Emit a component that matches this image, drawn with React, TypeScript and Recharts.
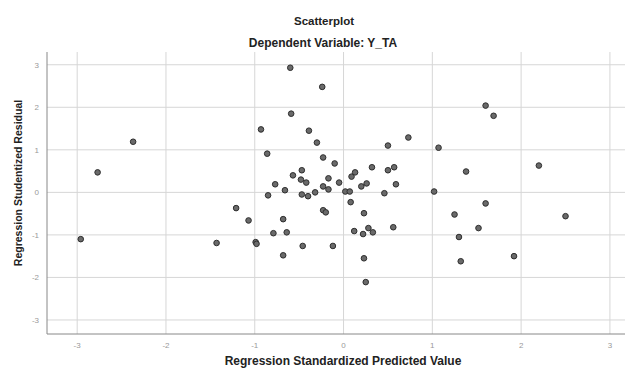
import React from 'react';
import { ScatterChart, Scatter, XAxis, YAxis, CartesianGrid } from 'recharts';

// standardized predicted value (x) vs studentized residual (y)
const predicted = [
    -2.96, -2.77, -2.37, -1.43, -1.21, -1.07, -0.99, -0.98, -0.93, -0.86,
    -0.85, -0.77, -0.79, -0.68, -0.68, -0.66, -0.64, -0.59, -0.6, -0.57,
    -0.47, -0.48, -0.47, -0.46, -0.42, -0.4, -0.39, -0.32, -0.3, -0.24,
    -0.23, -0.23, -0.23, -0.2, -0.17, -0.17, -0.12, -0.1, -0.05, 0.02,
    0.07, 0.08, 0.09, 0.13, 0.12, 0.2, 0.22, 0.23, 0.23, 0.25,
    0.26, 0.28, 0.32, 0.33, 0.46, 0.5, 0.5, 0.56, 0.57, 0.59,
    0.73, 1.02, 1.07, 1.25, 1.3, 1.32, 1.38, 1.52, 1.6, 1.6,
    1.69, 1.92, 2.2, 2.5
];
const residual = [
    -1.1, 0.47, 1.19, -1.19, -0.37, -0.66, -1.17, -1.21, 1.48, 0.91,
    -0.07, 0.19, -0.96, -0.63, -1.48, 0.05, -0.94, 1.85, 2.93, 0.4,
    0.52, 0.3, -0.05, -1.26, 0.23, -0.09, 1.45, 0.0, 1.17, 2.48,
    0.82, 0.14, -0.42, -0.47, 0.33, 0.07, -1.26, 0.68, 0.23, 0.02,
    0.02, -0.23, 0.37, 0.47, -0.91, 0.14, -0.98, -0.49, -1.55, -2.11,
    0.21, -0.84, 0.59, -0.94, -0.02, 0.52, 1.1, -0.82, 0.59, 0.19,
    1.29, 0.02, 1.05, -0.52, -1.05, -1.62, 0.49, -0.84, 2.04, -0.26,
    1.8, -1.5, 0.63, -0.56
];
const xTicks = [-3, -2, -1, 0, 1, 2, 3];
const yTicks = [-3, -2, -1, 0, 1, 2, 3];

const points = predicted.map((x, i) => ({ x, y: residual[i] }));

const boldText: React.CSSProperties = {
    position: 'absolute',
    fontFamily: '"Liberation Sans", Arial, sans-serif',
    fontWeight: 'bold',
    color: '#222',
    whiteSpace: 'nowrap',
    lineHeight: 1,
    transform: 'translateX(-50%)'
};

const Dot = (props: any) => {
    const { cx, cy } = props;
    return <circle cx={cx} cy={cy} r={2.8} fill="#6a6a6a" stroke="#2e2e2e" strokeWidth={1} />;
};

export default function App() {
    return (
        <div style={{ position: 'absolute', left: 0, top: 0, width: 629, height: 373, background: '#fff' }}>
            <div style={{ ...boldText, fontSize: 11.5, left: 324, top: 16 }}>
                Scatterplot
            </div>
            <div style={{ ...boldText, fontSize: 12, left: 323, top: 37 }}>
                Dependent Variable: Y_TA
            </div>
            <ScatterChart width={629} height={373} margin={{ top: 52, right: 4, bottom: 0, left: 0 }}>
                <CartesianGrid stroke="#d6d6d6" horizontalValues={yTicks} verticalValues={xTicks} />
                <XAxis
                    type="number"
                    dataKey="x"
                    domain={[-3.34, 3.17]}
                    ticks={xTicks}
                    allowDataOverflow
                    height={39}
                    tickLine={false}
                    axisLine={{ stroke: '#888' }}
                    tick={{ fontSize: 8, fill: '#999', fontFamily: 'Liberation Sans' }}
                />
                <YAxis
                    type="number"
                    dataKey="y"
                    domain={[-3.33, 3.3]}
                    ticks={yTicks}
                    allowDataOverflow
                    width={47}
                    tickLine={false}
                    axisLine={{ stroke: '#888' }}
                    tick={{ fontSize: 8, fill: '#999', fontFamily: 'Liberation Sans' }}
                />
                <Scatter data={points} shape={Dot} isAnimationActive={false} />
            </ScatterChart>
            <div style={{ ...boldText, fontSize: 12, left: 343, top: 355 }}>
                Regression Standardized Predicted Value
            </div>
            <div
                style={{
                    ...boldText,
                    fontSize: 10.5,
                    left: 18,
                    top: 183,
                    transform: 'translate(-50%, -50%) rotate(-90deg)'
                }}
            >
                Regression Studentized Residual
            </div>
        </div>
    );
}
